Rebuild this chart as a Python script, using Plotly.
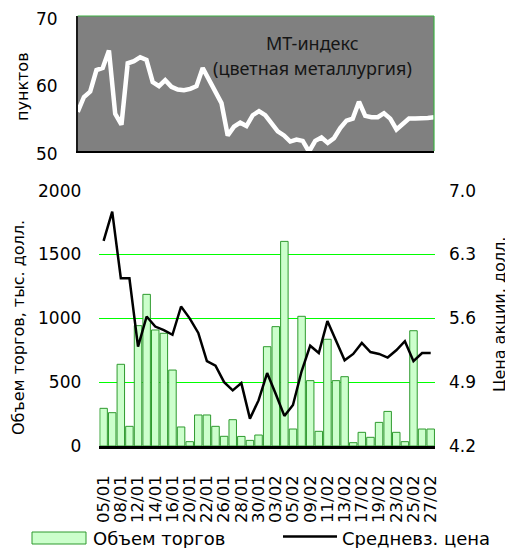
import plotly.graph_objects as go

# ---------------- data ----------------
dates = ["05/01", "06/01", "08/01", "09/01", "12/01", "13/01", "14/01", "15/01", "16/01", "19/01",
         "20/01", "21/01", "22/01", "23/01", "26/01", "27/01", "28/01", "29/01", "30/01", "02/02",
         "03/02", "04/02", "05/02", "06/02", "09/02", "10/02", "11/02", "12/02", "13/02", "16/02",
         "17/02", "18/02", "19/02", "20/02", "23/02", "24/02", "25/02", "26/02", "27/02"]

volume = [295, 261, 640, 154, 943, 1188, 909, 883, 595, 149,
          34, 243, 243, 154, 76, 206, 75, 44, 86, 778,
          935, 1603, 133, 1016, 512, 115, 836, 512, 543, 26,
          107, 68, 185, 271, 107, 34, 903, 133, 133]

price = [6.45, 6.77, 6.04, 6.04, 5.29, 5.62, 5.51, 5.47, 5.42, 5.73,
         5.60, 5.44, 5.13, 5.08, 4.90, 4.81, 4.89, 4.50, 4.70, 5.00,
         4.77, 4.53, 4.65, 5.02, 5.30, 5.22, 5.57, 5.35, 5.14, 5.21,
         5.33, 5.23, 5.21, 5.17, 5.25, 5.35, 5.13, 5.22, 5.22]

mt_index = [55.8, 58.0, 58.8, 62.0, 62.3, 64.9, 55.5, 53.9, 63.0, 63.3,
            63.9, 63.5, 60.2, 59.6, 60.5, 59.5, 59.1, 59.0, 59.2, 59.6,
            62.3, 60.5, 58.7, 57.1, 52.3, 53.6, 54.2, 53.7, 55.3, 55.9,
            55.3, 54.0, 52.9, 52.3, 51.4, 51.7, 51.5, 49.9, 51.5, 52.0,
            51.2, 51.9, 53.4, 54.5, 54.8, 57.3, 55.2, 55.0, 55.0, 55.6,
            54.8, 53.2, 54.0, 54.8, 54.8, 54.8, 54.9, 55.0]

vol_ticks = [0, 500, 1000, 1500, 2000]
price_ticks = [4.2, 4.9, 5.6, 6.3, 7.0]
price_ticktext = ["4.2", "4.9", "5.6", "6.3", "7.0"]
idx_ticks = [50, 60, 70]

# the page body has an 8px margin; lay the figure out in window pixels
OFF = 8
W, H = 513 - OFF, 548 - OFF
def px(x):
    return (x - OFF) / W
def py(y):
    return 1 - (y - OFF) / H

FONT = "DejaVu Sans"
FS = 17

fig = go.Figure()

fig.add_trace(go.Bar(
    x=dates, y=volume, name="Объем торгов",
    marker=dict(color="#CCFFCC", line=dict(color="#2E9A2E", width=1)),
    xaxis="x", yaxis="y", showlegend=False,
))
fig.add_trace(go.Scatter(
    x=dates, y=price, name="Средневз. цена", mode="lines",
    line=dict(color="#000000", width=2.5),
    xaxis="x", yaxis="y3", showlegend=False,
))
fig.add_trace(go.Scatter(
    x=list(range(len(mt_index))), y=mt_index, mode="lines",
    line=dict(color="#FFFFFF", width=4.5),
    xaxis="x2", yaxis="y2", showlegend=False,
))

fig.update_layout(
    width=W, height=H,
    margin=dict(l=0, r=0, t=0, b=0),
    paper_bgcolor="white", plot_bgcolor="rgba(0,0,0,0)",
    font=dict(family=FONT, size=FS, color="black"),
    bargap=0.13,
    xaxis=dict(
        domain=[px(99.3), px(435)], anchor="y",
        type="category", range=[-0.5, len(dates) - 0.5],
        tickmode="array", tickvals=dates[::2], ticktext=dates[::2],
        tickangle=-90, tickfont=dict(family=FONT, size=16.5),
        showline=True, linecolor="black", linewidth=2.5,
        showgrid=False, ticks="", ticklabelstandoff=20,
        automargin=False, zeroline=False,
    ),
    yaxis=dict(
        domain=[py(446), py(190.7)], anchor="x",
        range=[0, 2000], tickvals=vol_ticks,
        showgrid=True, gridcolor="#00FF00", gridwidth=1,
        zeroline=False, showline=False, ticks="",
        ticklabelstandoff=17, automargin=False,
    ),
    yaxis3=dict(
        overlaying="y", side="right", anchor="x",
        range=[4.2, 7.0], tickvals=price_ticks, ticktext=price_ticktext,
        showgrid=False, zeroline=False, showline=False, ticks="",
        ticklabelstandoff=13, automargin=False,
    ),
    xaxis2=dict(
        domain=[px(77.7), px(434)], anchor="y2",
        range=[0, len(mt_index) - 1],
        showticklabels=False, showgrid=False, zeroline=False, ticks="",
        showline=True, linecolor="black", linewidth=1.5, automargin=False,
    ),
    yaxis2=dict(
        domain=[py(151), py(16)], anchor="x2",
        range=[50, 70], tickvals=idx_ticks,
        showgrid=False, zeroline=False, ticks="",
        showline=True, linecolor="#1a1a1a", linewidth=1.5,
        ticklabelstandoff=15, ticklabelshift=3,
        automargin=False, ticklabeloverflow="allow",
    ),
)

shapes = [
    dict(type="rect", xref="x2 domain", yref="y2 domain", x0=0, x1=1, y0=0, y1=1,
         fillcolor="#808080", line=dict(width=0), layer="below"),
    dict(type="line", xref="x2 domain", yref="y2 domain", x0=0, x1=1, y0=1, y1=1,
         line=dict(color="#3CB043", width=1.2)),
    dict(type="line", xref="x2 domain", yref="y2 domain", x0=1, x1=1, y0=0, y1=1,
         line=dict(color="#3CB043", width=1.2)),
    # legend samples
    dict(type="rect", xref="paper", yref="paper", x0=px(32), x1=px(86), y0=py(544), y1=py(532),
         fillcolor="#CCFFCC", line=dict(color="#2E9A2E", width=1)),
    dict(type="line", xref="paper", yref="paper", x0=px(283), x1=px(337), y0=py(536.5), y1=py(536.5),
         line=dict(color="black", width=2.5)),
]
fig.update_layout(shapes=shapes)

annotations = []
for text, x, y in [("МТ-индекс", 312, 43), ("(цветная металлургия)", 312, 68)]:
    annotations.append(dict(text=text, x=px(x), y=py(y), xref="paper", yref="paper",
                            xanchor="center", yanchor="middle", showarrow=False,
                            font=dict(family="Noto Sans", size=18, color="#151515")))
for text, x, y in [("пунктов", 23, 87), ("Объем торгов, тыс. долл.", 18, 328),
                   ("Цена акции, долл.", 499, 315)]:
    annotations.append(dict(text=text, x=px(x), y=py(y), xref="paper", yref="paper",
                            xanchor="center", yanchor="middle", showarrow=False, textangle=-90,
                            font=dict(family=FONT, size=16, color="black")))
for text, x in [("Объем торгов", 91), ("Средневз. цена", 340)]:
    annotations.append(dict(text=text, x=px(x), y=py(538), xref="paper", yref="paper",
                            xanchor="left", yanchor="middle", showarrow=False,
                            font=dict(family=FONT, size=18, color="black")))
fig.update_layout(annotations=annotations)

fig.write_html("out.html")
